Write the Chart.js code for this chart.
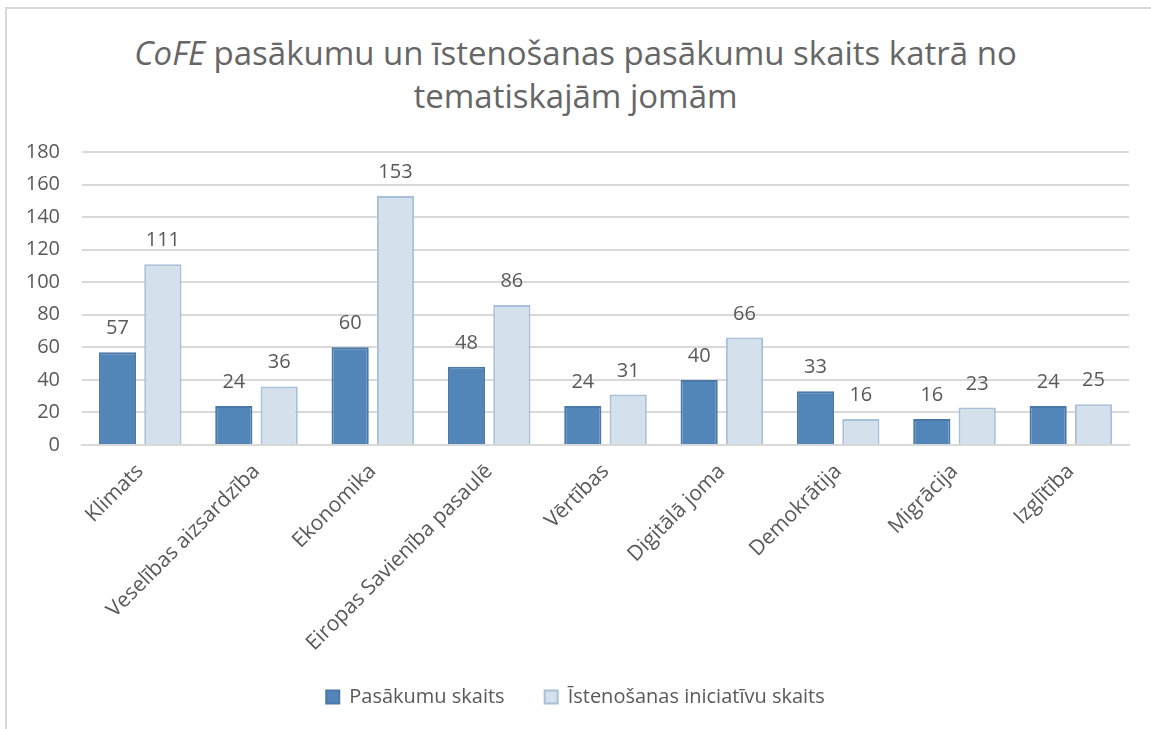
<!DOCTYPE html>
<html>
<head>
<meta charset="utf-8">
<script src="https://cdn.jsdelivr.net/npm/chart.js@4"></script>
<style>
  body { margin: 0; background: #fff; }
  #wrap { position: relative; width: 1151px; height: 729px; }
  #frame { position: absolute; left: 5px; top: 7px; right: 0; bottom: 0; border-left: 2px solid #d9d9d9; border-top: 2px solid #d9d9d9; }
  #title { position: absolute; left: 0; right: 0; top: 31px; text-align: center; font-family: "Open Sans", sans-serif; font-size: 33px; line-height: 43px; color: #666; }
  canvas { position: absolute; left: 0; top: 0; }
</style>
</head>
<body>
<div id="wrap">
  <div id="frame"></div>
  <div id="title"><i>CoFE</i> pasākumu un īstenošanas pasākumu skaits katrā no<br>tematiskajām jomām</div>
  <canvas id="myChart" width="1151" height="729"></canvas>
</div>
<script>
// chart data
const jomas = ['Klimats', 'Veselības aizsardzība', 'Ekonomika', 'Eiropas Savienība pasaulē', 'Vērtības', 'Digitālā joma', 'Demokrātija', 'Migrācija', 'Izglītība'];
const pasakumi = [57, 24, 60, 48, 24, 40, 33, 16, 24];
const iniciativas = [111, 36, 153, 86, 31, 66, 16, 23, 25];
const yTicks = [0, 20, 40, 60, 80, 100, 120, 140, 160, 180];

const grey = '#595959';
const fontName = '"Open Sans", sans-serif';

// numbers above the bars
const barLabels = {
  id: 'barLabels',
  afterLayout(chart) {
    // let the long rotated labels run past the x axis box
    chart.scales.x._computeLabelArea = function () { return undefined; };
  },
  afterDatasetsDraw(chart) {
    const c = chart.ctx;
    c.save();
    c.font = '20px ' + fontName;
    c.fillStyle = grey;
    c.textAlign = 'center';
    c.textBaseline = 'alphabetic';
    chart.data.datasets.forEach(function (ds, i) {
      chart.getDatasetMeta(i).data.forEach(function (bar, j) {
        c.fillText(ds.data[j], bar.x, bar.y - 18);
      });
    });
    c.restore();
  }
};

const ctx = document.getElementById('myChart');
new Chart(ctx, {
  type: 'bar',
  data: {
    labels: jomas,
    datasets: [{
      label: 'Pasākumu skaits',
      data: pasakumi,
      backgroundColor: '#5286b9',
      borderColor: '#4a79a8',
      borderWidth: 2,
      categoryPercentage: 0.78,
      barPercentage: 0.82
    }, {
      label: 'Īstenošanas iniciatīvu skaits',
      data: iniciativas,
      backgroundColor: '#d4e1ed',
      borderColor: '#a9c0d9',
      borderWidth: 2,
      categoryPercentage: 0.78,
      barPercentage: 0.82
    }]
  },
  options: {
    responsive: false,
    animation: false,
    layout: { padding: { left: 22, right: 22, top: 152, bottom: 12 } },
    plugins: {
      title: { display: false },
      tooltip: { enabled: false },
      legend: {
        position: 'bottom',
        labels: {
          font: { family: fontName, size: 20 },
          color: grey,
          boxWidth: 13,
          boxHeight: 13,
          padding: 40
        }
      }
    },
    scales: {
      x: {
        grid: { display: false },
        border: { color: '#d9d9d9', width: 2 },
        ticks: {
          color: grey,
          font: { family: fontName, size: 21 },
          minRotation: 45,
          maxRotation: 45,
          padding: 6
        },
        afterFit(scale) { scale.height = 202; }
      },
      y: {
        min: 0,
        max: 180,
        afterBuildTicks(scale) { scale.ticks = yTicks.map(v => ({ value: v })); },
        grid: { color: '#d9d9d9', lineWidth: 2, drawTicks: false },
        border: { display: false },
        ticks: {
          color: grey,
          font: { family: fontName, size: 20 },
          padding: 22
        },
        afterFit(scale) { scale.width = 60; }
      }
    }
  },
  plugins: [barLabels]
});
</script>
</body>
</html>
